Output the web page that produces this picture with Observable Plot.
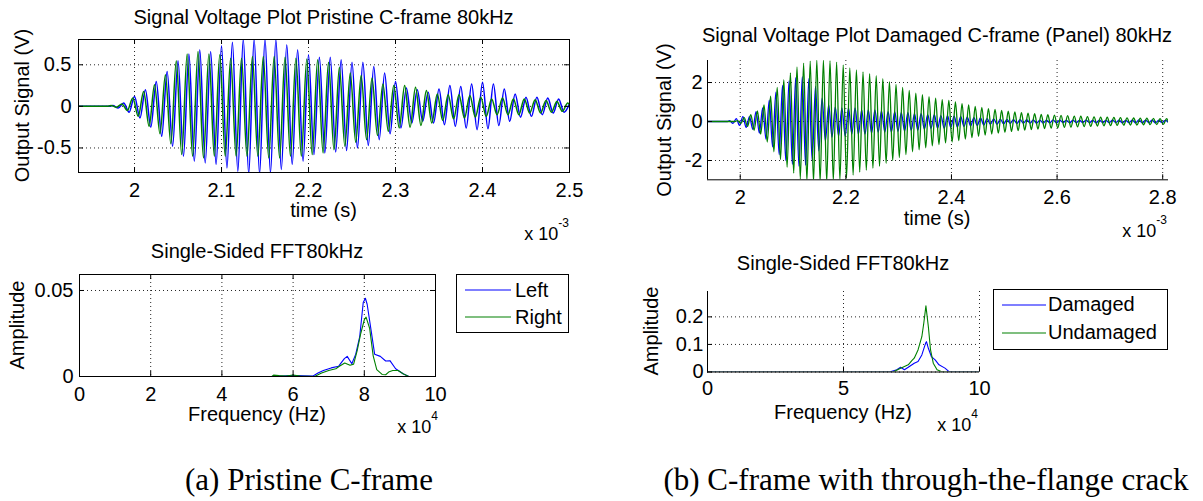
<!DOCTYPE html>
<html><head><meta charset="utf-8">
<script src="https://cdn.jsdelivr.net/npm/d3@7"></script>
<script src="https://cdn.jsdelivr.net/npm/@observablehq/plot@0.6"></script>
<style>
html,body{margin:0;padding:0;background:#fff;}
#fig{position:relative;width:1203px;height:501px;overflow:hidden;background:#fff;}
</style></head><body><div id="fig"></div>
<script>
// ---------------- DATA ----------------
// Time in microseconds (axis shows x 10^-3 s), values in volts: extrema of the oscillations.
const pristineLeftT = [1935.6,1970,1975,1981.25,1987.5,1993.75,
 2000,2006.25,2012.5,2018.75,2025,2031.25,2037.5,2043.75,2050,2056.25,2062.5,2068.75,2075,2081.25,2087.5,2093.75,
 2100,2106.25,2112.5,2118.75,2125,2131.25,2137.5,2143.75,2150,2156.25,2162.5,2168.75,2175,2181.25,2187.5,2193.75,
 2200,2206.25,2212.5,2218.75,2225,2231.25,2237.5,2243.75,2250,2256.25,2262.5,2268.75,2275,2281.25,2287.5,2293.75,
 2300,2306.25,2312.5,2318.75,2325,2331.25,2337.5,2343.75,2350,2356.25,2362.5,2368.75,2375,2381.25,2387.5,2393.75,
 2400,2406.25,2412.5,2418.75,2425,2431.25,2437.5,2443.75,2450,2456.25,2462.5,2468.75,2475,2481.25,2487.5,2493.75,2500];
const pristineLeftV = [0,0,0.01,-0.02,0.04,-0.07,
 0.12,-0.14,0.20,-0.25,0.30,-0.36,0.42,-0.48,0.55,-0.60,0.63,-0.66,0.68,-0.68,0.66,-0.70,
 0.73,-0.74,0.77,-0.78,0.81,-0.81,0.81,-0.81,0.81,-0.80,0.80,-0.76,0.74,-0.70,0.68,-0.66,
 0.62,-0.58,0.59,-0.56,0.59,-0.55,0.56,-0.53,0.53,-0.50,0.53,-0.47,0.48,-0.40,0.40,-0.33,
 0.30,-0.26,0.22,-0.20,0.20,-0.18,0.17,-0.20,0.21,-0.22,0.25,-0.24,0.24,-0.26,0.27,-0.28,
 0.29,-0.27,0.27,-0.23,0.21,-0.18,0.15,-0.13,0.11,-0.12,0.11,-0.10,0.10,-0.08,0.09,-0.07,0.03];
const pristineRightT = [1935.6,1968,1973,1979.25,1985.5,1991.75,
 1998,2004.25,2010.5,2016.75,2023,2029.25,2035.5,2041.75,2048,2054.25,2060.5,2066.75,2073,2079.25,2085.5,2091.75,
 2098,2104.25,2110.5,2116.75,2123,2129.25,2135.5,2141.75,2148,2154.25,2160.5,2166.75,2173,2179.25,2185.5,2191.75,
 2198,2204.25,2210.5,2216.75,2223,2229.25,2235.5,2241.75,2248,2254.25,2260.5,2266.75,2273,2279.25,2285.5,2291.75,
 2298,2304.25,2310.5,2316.75,2323,2329.25,2335.5,2341.75,2348,2354.25,2360.5,2366.75,2373,2379.25,2385.5,2391.75,
 2398,2404.25,2410.5,2416.75,2423,2429.25,2435.5,2441.75,2448,2454.25,2460.5,2466.75,2473,2479.25,2485.5,2491.75,2498,2500];
const pristineRightV = [0,0,0.01,-0.01,0.03,-0.05,
 0.10,-0.12,0.18,-0.24,0.26,-0.33,0.38,-0.45,0.55,-0.58,0.63,-0.60,0.66,-0.62,0.63,-0.60,
 0.62,-0.60,0.58,-0.60,0.58,-0.60,0.60,-0.60,0.60,-0.62,0.60,-0.62,0.59,-0.60,0.58,-0.60,
 0.57,-0.58,0.56,-0.56,0.53,-0.52,0.47,-0.48,0.40,-0.43,0.37,-0.40,0.34,-0.35,0.27,-0.30,
 0.25,-0.26,0.25,-0.25,0.23,-0.23,0.19,-0.20,0.15,-0.17,0.14,-0.15,0.14,-0.14,0.13,-0.13,
 0.11,-0.12,0.09,-0.10,0.10,-0.10,0.09,-0.10,0.09,-0.08,0.08,-0.08,0.07,-0.07,0.06,-0.06,0.04,0.02];

const damagedT = [1938,1976,
 1980,1986.25,1992.5,1998.75, 2005,2011.25,2017.5,2023.75, 2030,2036.25,2042.5,2048.75, 2055,2061.25,2067.5,2073.75,
 2080,2086.25,2092.5,2098.75, 2105,2111.25,2117.5,2123.75, 2130,2136.25,2142.5,2148.75, 2155,2161.25,2167.5,2173.75,
 2180,2186.25,2192.5,2198.75, 2205,2211.25,2217.5,2223.75, 2230,2236.25,2242.5,2248.75, 2255,2261.25,2267.5,2273.75,
 2280,2286.25,2292.5,2298.75, 2305,2311.25,2317.5,2323.75, 2330,2336.25,2342.5,2348.75, 2355,2361.25,2367.5,2373.75,
 2380,2386.25,2392.5,2398.75, 2405,2411.25,2417.5,2423.75, 2430,2436.25,2442.5,2448.75, 2455,2461.25,2467.5,2473.75,
 2480,2486.25,2492.5,2498.75, 2505,2511.25,2517.5,2523.75, 2530,2536.25,2542.5,2548.75, 2555,2561.25,2567.5,2573.75,
 2580,2586.25,2592.5,2598.75, 2605,2611.25,2617.5,2623.75, 2630,2636.25,2642.5,2648.75, 2655,2661.25,2667.5,2673.75,
 2680,2686.25,2692.5,2698.75, 2705,2711.25,2717.5,2723.75, 2730,2736.25,2742.5,2748.75, 2755,2761.25,2767.5,2773.75,
 2780,2786.25,2792.5,2798.75, 2805,2811];
const damagedV = [0,0,
 0.05,-0.10,0.15,-0.20, 0.25,-0.30,0.25,-0.40, 0.50,-0.60,0.70,-0.90, 1.10,-1.30,1.50,-1.70,
 1.85,-2.00,2.10,-2.20, 2.25,-2.30,2.30,-2.25, 2.20,-2.00,1.80,-1.50, 1.20,-1.00,0.85,-0.80,
 0.75,-0.75,0.70,-0.75, 0.70,-0.65,0.70,-0.65, 0.60,-0.65,0.60,-0.60, 0.60,-0.55,0.55,-0.55,
 0.50,-0.55,0.50,-0.50, 0.45,-0.50,0.45,-0.45, 0.40,-0.45,0.40,-0.40, 0.35,-0.35,0.35,-0.35,
 0.30,-0.35,0.30,-0.30, 0.28,-0.28,0.25,-0.25, 0.22,-0.22,0.20,-0.20, 0.18,-0.18,0.15,-0.15,
 0.14,-0.14,0.12,-0.12, 0.11,-0.10,0.10,-0.10, 0.09,-0.09,0.09,-0.08, 0.08,-0.08,0.07,-0.08,
 0.07,-0.07,0.08,-0.07, 0.07,-0.06,0.06,-0.07, 0.07,-0.06,0.06,-0.06, 0.07,-0.06,0.06,-0.07,
 0.07,-0.06,0.06,-0.06, 0.07,-0.06,0.07,-0.07, 0.06,-0.06,0.07,-0.07, 0.08,-0.07,0.07,-0.06,
 0.07,-0.07,0.06,-0.06, 0.06,-0.04];
const undamagedT = [1938,1990,
 1995,2001.25,2007.5,2013.75, 2020,2026.25,2032.5,2038.75, 2045,2051.25,2057.5,2063.75, 2070,2076.25,2082.5,2088.75,
 2095,2101.25,2107.5,2113.75, 2120,2126.25,2132.5,2138.75, 2145,2151.25,2157.5,2163.75, 2170,2176.25,2182.5,2188.75,
 2195,2201.25,2207.5,2213.75, 2220,2226.25,2232.5,2238.75, 2245,2251.25,2257.5,2263.75, 2270,2276.25,2282.5,2288.75,
 2295,2301.25,2307.5,2313.75, 2320,2326.25,2332.5,2338.75, 2345,2351.25,2357.5,2363.75, 2370,2376.25,2382.5,2388.75,
 2395,2401.25,2407.5,2413.75, 2420,2426.25,2432.5,2438.75, 2445,2451.25,2457.5,2463.75, 2470,2476.25,2482.5,2488.75,
 2495,2501.25,2507.5,2513.75, 2520,2526.25,2532.5,2538.75, 2545,2551.25,2557.5,2563.75, 2570,2576.25,2582.5,2588.75,
 2595,2601.25,2607.5,2613.75, 2620,2626.25,2632.5,2638.75, 2645,2651.25,2657.5,2663.75, 2670,2676.25,2682.5,2688.75,
 2695,2701.25,2707.5,2713.75, 2720,2726.25,2732.5,2738.75, 2745,2751.25,2757.5,2763.75, 2770,2776.25,2782.5,2788.75,
 2795,2801.25,2807.5,2811];
const undamagedV = [0,0,
 0.05,-0.10,0.20,-0.25, 0.35,-0.45,0.55,-0.65, 0.85,-1.05,1.30,-1.55, 1.75,-1.95,2.15,-2.35,
 2.50,-2.65,2.80,-2.95, 3.00,-3.05,3.10,-3.10, 3.15,-3.10,3.15,-3.10, 3.12,-3.05,3.05,-3.00,
 2.90,-2.90,2.75,-2.75, 2.65,-2.60,2.55,-2.50, 2.45,-2.40,2.35,-2.30, 2.20,-2.15,2.05,-2.00,
 1.90,-1.85,1.75,-1.70, 1.60,-1.55,1.45,-1.45, 1.38,-1.35,1.28,-1.25, 1.20,-1.18,1.12,-1.10,
 1.08,-1.05,1.00,-0.98, 0.92,-0.90,0.85,-0.83, 0.78,-0.76,0.72,-0.70, 0.66,-0.64,0.62,-0.60,
 0.57,-0.55,0.53,-0.51, 0.49,-0.47,0.46,-0.44, 0.43,-0.41,0.40,-0.39, 0.37,-0.36,0.35,-0.34,
 0.33,-0.32,0.31,-0.30, 0.30,-0.29,0.28,-0.27, 0.27,-0.26,0.25,-0.25, 0.24,-0.23,0.23,-0.22,
 0.22,-0.21,0.21,-0.20, 0.20,-0.19,0.19,-0.18, 0.18,-0.18,0.17,-0.17, 0.17,-0.16,0.16,-0.16,
 0.15,-0.15,0.15,-0.05];

// FFT spectra: frequency in Hz, amplitude
const fftLeftF  = [0,54000,55000,57000,59000,61000,63000,65500,67000,68500,70700,72800,74400,75200,76500,77600,78700,79700,80300,80800,81900,82900,84500,86000,87200,88800,90900,92500,100000];
const fftLeftA  = [0,0,0.0004,0.0003,0.0006,0.0005,0.0004,0.0002,0.002,0.0035,0.005,0.006,0.0104,0.0117,0.0074,0.013,0.023,0.043,0.0455,0.042,0.027,0.013,0.0117,0.009,0.0092,0.0045,0.0016,0,0];
const fftRightF = [0,54000,54500,56000,58000,60000,62000,66000,68000,70000,72000,73000,74500,76000,77000,78000,79000,80000,80500,81500,82500,83500,85000,86000,87000,88000,89500,91000,92500,100000];
const fftRightA = [0,0,0.0008,0.0005,0.0003,0.0009,0.0002,0,0.002,0.0035,0.0045,0.006,0.0078,0.0065,0.0072,0.015,0.025,0.033,0.0345,0.028,0.012,0.004,0.0012,0.001,0.0028,0.0035,0.0035,0.0015,0,0];
const fftDamagedF   = [0,67000,67500,69600,71000,72400,73800,76000,77400,78800,80200,80500,81200,82300,83700,85100,87300,88700,89400,100000];
const fftDamagedA   = [0,0,0.002,0.008,0.017,0.008,0.017,0.032,0.038,0.062,0.105,0.11,0.086,0.056,0.044,0.026,0.014,0.002,0,0];
const fftUndamagedF = [0,68200,71000,73800,75200,76000,77400,78800,79500,80300,81200,82000,83000,84400,85900,87000,100000];
const fftUndamagedA = [0,0,0.014,0.026,0.042,0.05,0.08,0.128,0.176,0.24,0.164,0.08,0.032,0.008,0.002,0,0];

// Ticks and labels
const pristineXTicks = [2000,2100,2200,2300,2400,2500];
const pristineXLabels = ["2","2.1","2.2","2.3","2.4","2.5"];
const pristineYTicks = [-0.5,0,0.5];
const pristineYLabels = ["-0.5","0","0.5"];
const damagedXTicks = [2000,2200,2400,2600,2800];
const damagedXLabels = ["2","2.2","2.4","2.6","2.8"];
const damagedYTicks = [-2,0,2];
const damagedYLabels = ["-2","0","2"];
const fftAXTicks = [0,20000,40000,60000,80000,100000];
const fftAXLabels = ["0","2","4","6","8","10"];
const fftAYTicks = [0,0.05];
const fftAYLabels = ["0","0.05"];
const fftBXTicks = [0,50000,100000];
const fftBXLabels = ["0","5","10"];
const fftBYTicks = [0,0.1,0.2];
const fftBYLabels = ["0","0.1","0.2"];

const BLUE = "#0000ff", GREEN = "#008000";
const FONT = '"Liberation Sans", Arial, Helvetica, sans-serif';
const FS = 20;

// ---------------- DRAWING ----------------
const fig = document.getElementById("fig");
const zip = (a, b) => a.map((x, i) => ({x, y: b[i]}));
const fmt = (ticks, labels) => d => labels[ticks.indexOf(d)];

function panel(p) {
  const mL = p.fx0 - p.sx, mR = p.sx + p.w - p.fx1, mT = p.fy0 - p.sy, mB = p.sy + p.h - p.fy1;
  const ph = p.fy1 - p.fy0, pw = p.fx1 - p.fx0, tk = 5;
  const gridStyle = {stroke: "#000", strokeOpacity: 0.85, strokeDasharray: "1,3", strokeWidth: 1};
  const marks = [
    Plot.gridX({ticks: p.xGrid, ...gridStyle}),
    Plot.gridY({ticks: p.yGrid, ...gridStyle}),
    ...p.series.map(s => Plot.line(s.data, {x: "x", y: "y", stroke: s.color, strokeWidth: s.width, curve: s.curve, clip: true})),
    Plot.tickX(p.xTicks, {x: d => d, insetTop: ph - tk, stroke: "#000"}),
    Plot.tickY(p.yTicks, {y: d => d, insetRight: pw - tk, stroke: "#000"})
  ];
  if (p.boxed) {
    marks.push(Plot.tickX(p.xTicks, {x: d => d, insetBottom: ph - tk, stroke: "#000"}));
    marks.push(Plot.tickY(p.yTicks, {y: d => d, insetLeft: pw - tk, stroke: "#000"}));
    marks.push(Plot.frame({stroke: "#000", strokeWidth: 1}));
  } else {
    marks.push(Plot.ruleX([p.xDomain[0]], {stroke: "#000"}));
    marks.push(Plot.ruleY([p.yDomain[0]], {stroke: "#000"}));
  }
  marks.push(Plot.axisX({ticks: p.xTicks, tickSize: 0, tickPadding: p.xPad, tickFormat: fmt(p.xTicks, p.xLabels), label: null}));
  marks.push(Plot.axisY({ticks: p.yTicks, tickSize: 0, tickPadding: p.yPad, tickFormat: fmt(p.yTicks, p.yLabels), label: null}));
  const svg = Plot.plot({
    width: p.w, height: p.h, marginLeft: mL, marginRight: mR, marginTop: mT, marginBottom: mB,
    x: {domain: p.xDomain, label: null}, y: {domain: p.yDomain, label: null},
    style: {fontFamily: FONT, fontSize: FS + "px", color: "#000", background: "transparent", overflow: "visible"},
    marks
  });
  svg.style.position = "absolute";
  svg.style.left = p.sx + "px";
  svg.style.top = p.sy + "px";
  fig.appendChild(svg);
}

panel({sx: 0, sy: 0, w: 600, h: 205, fx0: 78, fx1: 569, fy0: 39, fy1: 172,
  xDomain: [1935.6, 2500], yDomain: [-0.795, 0.804],
  xTicks: pristineXTicks, xLabels: pristineXLabels, yTicks: pristineYTicks, yLabels: pristineYLabels,
  xGrid: pristineXTicks, yGrid: pristineYTicks, boxed: true, xPad: 10, yPad: 7,
  series: [
    {data: zip(pristineLeftT, pristineLeftV), color: BLUE, curve: "monotone-x", width: 1.5},
    {data: zip(pristineRightT, pristineRightV), color: GREEN, curve: "monotone-x", width: 1.5}
  ]});

panel({sx: 600, sy: 40, w: 603, h: 170, fx0: 707, fx1: 1168, fy0: 60, fy1: 179.3,
  xDomain: [1938, 2811], yDomain: [-2.99, 3.13],
  xTicks: damagedXTicks, xLabels: damagedXLabels, yTicks: damagedYTicks, yLabels: damagedYLabels,
  xGrid: damagedXTicks, yGrid: damagedYTicks, boxed: false, xPad: 10, yPad: 5,
  series: [
    {data: zip(damagedT, damagedV), color: BLUE, curve: "monotone-x", width: 1.3},
    {data: zip(undamagedT, undamagedV), color: GREEN, curve: "monotone-x", width: 1.3}
  ]});

panel({sx: 0, sy: 260, w: 450, h: 145, fx0: 79, fx1: 435, fy0: 274, fy1: 376,
  xDomain: [0, 100000], yDomain: [0, 0.0593],
  xTicks: fftAXTicks, xLabels: fftAXLabels, yTicks: fftAYTicks, yLabels: fftAYLabels,
  xGrid: fftAXTicks, yGrid: fftAYTicks, boxed: true, xPad: 10, yPad: 6,
  series: [
    {data: zip(fftLeftF, fftLeftA), color: BLUE, curve: "linear", width: 1.1},
    {data: zip(fftRightF, fftRightA), color: GREEN, curve: "linear", width: 1.1}
  ]});

panel({sx: 600, sy: 280, w: 400, h: 120, fx0: 707, fx1: 979, fy0: 291, fy1: 371.5,
  xDomain: [0, 100000], yDomain: [0, 0.292],
  xTicks: fftBXTicks, xLabels: fftBXLabels, yTicks: fftBYTicks, yLabels: fftBYLabels,
  xGrid: fftBXTicks, yGrid: fftBYTicks, boxed: false, xPad: 9, yPad: 4,
  series: [
    {data: zip(fftDamagedF, fftDamagedA), color: BLUE, curve: "linear", width: 1.1},
    {data: zip(fftUndamagedF, fftUndamagedA), color: GREEN, curve: "linear", width: 1.1}
  ]});

// ---------------- TEXT OVERLAY ----------------
const ov = d3.create("svg").attr("width", 1203).attr("height", 501)
  .style("position", "absolute").style("left", "0px").style("top", "0px")
  .attr("font-family", FONT).attr("font-size", FS).attr("fill", "#000");

function txt(x, y, s, anchor = "middle", size = FS, family = null) {
  const t = ov.append("text").attr("x", x).attr("y", y).attr("text-anchor", anchor).attr("font-size", size).text(s);
  if (family) t.attr("font-family", family);
  return t;
}
function vtxt(x, y, s) {
  ov.append("text").attr("transform", `translate(${x},${y}) rotate(-90)`).attr("text-anchor", "middle").text(s);
}
function expo(xr, y, base, sup) {
  const t = ov.append("text").attr("x", xr).attr("y", y).attr("text-anchor", "end").attr("font-size", 18);
  t.append("tspan").text(base);
  t.append("tspan").attr("dy", -13).attr("font-size", 12).text(sup);
}
function legend(x, y, w, h, items) {
  ov.append("rect").attr("x", x + 0.5).attr("y", y + 0.5).attr("width", w).attr("height", h)
    .attr("fill", "#fff").attr("stroke", "#000");
  items.forEach(it => {
    ov.append("line").attr("x1", it.x1).attr("x2", it.x2).attr("y1", it.ly).attr("y2", it.ly)
      .attr("stroke", it.color).attr("stroke-width", 1.1);
    txt(it.tx, it.ty, it.label, "start");
  });
}

// Titles
txt(323.5, 24, "Signal Voltage Plot Pristine C-frame 80kHz");
txt(937, 42, "Signal Voltage Plot Damaged C-frame (Panel) 80kHz");
txt(257, 258, "Single-Sided FFT80kHz");
txt(843, 270, "Single-Sided FFT80kHz");
// Axis labels
txt(323.5, 217, "time (s)");
txt(937, 225, "time (s)");
txt(257, 421, "Frequency (Hz)");
txt(843, 419, "Frequency (Hz)");
vtxt(29, 105.5, "Output Signal (V)");
vtxt(671, 120, "Output Signal (V)");
vtxt(24, 325, "Amplitude");
vtxt(658, 331, "Amplitude");
// Exponents
expo(569, 240, "x 10", "-3");
expo(1167, 237, "x 10", "-3");
expo(438, 433, "x 10", "4");
expo(978, 431, "x 10", "4");
// Legends
legend(456, 274, 112, 58, [
  {x1: 465, x2: 511, ly: 290, color: BLUE, tx: 515, ty: 297, label: "Left"},
  {x1: 465, x2: 511, ly: 317, color: GREEN, tx: 515, ty: 324, label: "Right"}
]);
legend(993, 289, 174, 60, [
  {x1: 1002, x2: 1046, ly: 305, color: BLUE, tx: 1048, ty: 311, label: "Damaged"},
  {x1: 1002, x2: 1046, ly: 333, color: GREEN, tx: 1048, ty: 339, label: "Undamaged"}
]);
// Captions
const SERIF = '"Liberation Serif", "Times New Roman", serif';
txt(309, 490, "(a) Pristine C-frame", "middle", 31, SERIF);
txt(926, 490, "(b) C-frame with through-the-flange crack", "middle", 31, SERIF);

fig.appendChild(ov.node());
</script></body></html>
